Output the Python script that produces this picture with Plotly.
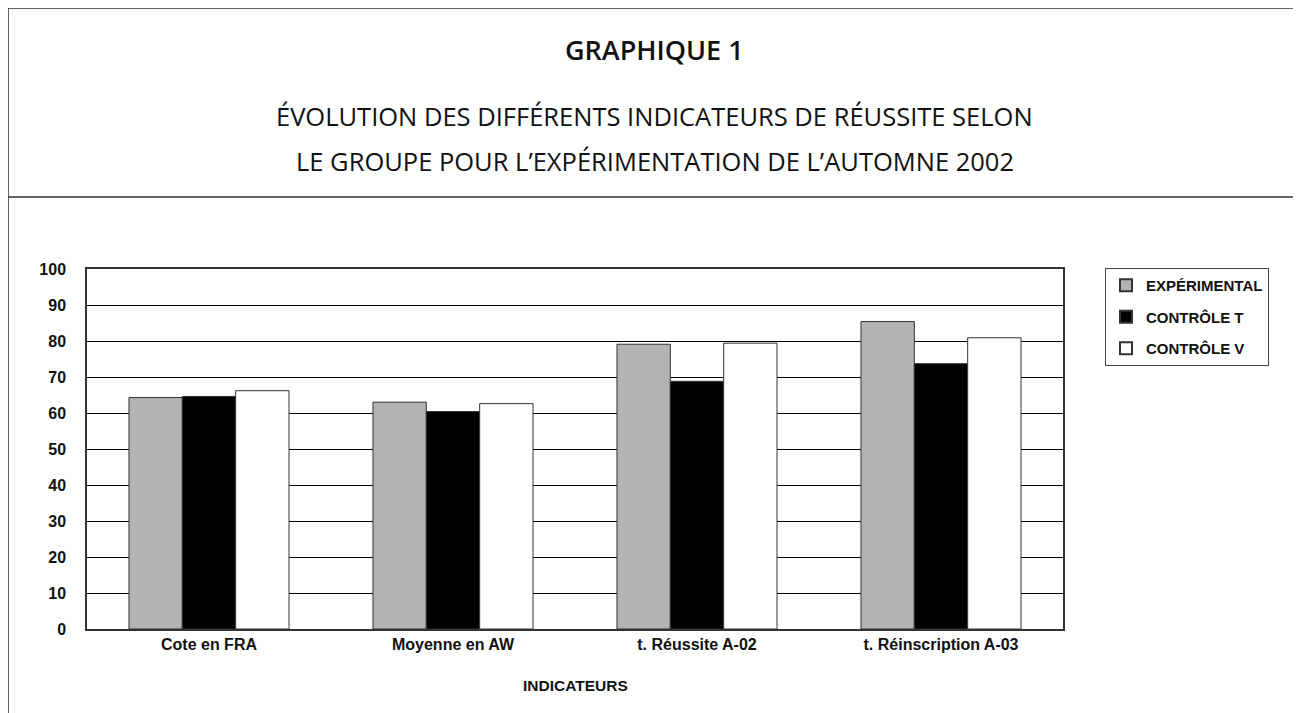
import plotly.graph_objects as go

categories = ["Cote en FRA", "Moyenne en AW", "t. Réussite A-02", "t. Réinscription A-03"]
series_names = ["EXPÉRIMENTAL", "CONTRÔLE T", "CONTRÔLE V"]
experimental = [64.3, 63.0, 79.1, 85.4]
controle_t = [64.6, 60.4, 68.8, 73.7]
controle_v = [66.2, 62.6, 79.4, 80.9]
y_ticks = [0, 10, 20, 30, 40, 50, 60, 70, 80, 90, 100]

colors = ["#b3b3b3", "#000000", "#ffffff"]
title_font = "Open Sans, Noto Sans, sans-serif"
label_font = "Liberation Sans, Arial, Helvetica, sans-serif"

fig = go.Figure()
for i, (name, vals, col) in enumerate(zip(series_names, [experimental, controle_t, controle_v], colors)):
    fig.add_trace(go.Bar(
        x=categories, y=vals, name=name, legendgroup=f"g{i}",
        marker=dict(color=col, line=dict(color="#333333", width=1)),
    ))

# figure is placed at (8,8) in the page; coordinates below are in page pixels
OFF = 8
L, R, T, B = 87 - OFF, 1063 - OFF, 269 - OFF, 629 - OFF
W, H = 1301, 713

def px(x):
    return (x - OFF - L) / (R - L)

def py(y):
    return (B - (y - OFF)) / (B - T)

xc = 0.5 * (px(8) + px(1301))
shapes = [
    dict(type="rect", xref="paper", yref="paper", x0=px(8), x1=px(1330), y0=py(8), y1=py(760),
         line=dict(color="#333333", width=1.5), layer="below"),
    dict(type="line", xref="paper", yref="paper", x0=px(8), x1=px(1330), y0=py(197), y1=py(197),
         line=dict(color="#333333", width=1.5)),
]

annotations = [
    dict(text="GRAPHIQUE 1", x=xc, y=py(50), xref="paper", yref="paper",
         showarrow=False, font=dict(family=title_font, size=27, color="#111111", weight=600),
         xanchor="center", yanchor="middle"),
    dict(text="ÉVOLUTION DES DIFFÉRENTS INDICATEURS DE RÉUSSITE SELON", x=xc, y=py(116),
         xref="paper", yref="paper", showarrow=False, font=dict(family=title_font, size=25.5, color="#111111"),
         xanchor="center", yanchor="middle"),
    dict(text="LE GROUPE POUR L’EXPÉRIMENTATION DE L’AUTOMNE 2002", x=xc, y=py(161),
         xref="paper", yref="paper", showarrow=False, font=dict(family=title_font, size=25.5, color="#111111"),
         xanchor="center", yanchor="middle"),
    dict(text="<b>INDICATEURS</b>", x=0.5, y=py(685), xref="paper", yref="paper", showarrow=False,
         font=dict(family=label_font, size=15.5, color="#111111"), xanchor="center", yanchor="middle"),
]

fig.update_layout(
    width=W, height=H,
    margin=dict(l=L, r=W - R, t=T, b=H - B, autoexpand=False),
    paper_bgcolor="white", plot_bgcolor="white",
    barmode="group", bargap=0.344, bargroupgap=0,
    shapes=shapes, annotations=annotations,
    showlegend=True,
    legend=dict(x=px(1105), y=py(268), xanchor="left", yanchor="top",
                bordercolor="#444444", borderwidth=1, bgcolor="white",
                font=dict(family=label_font, size=15, color="#111111", weight="bold"),
                tracegroupgap=9, itemsizing="constant", traceorder="grouped"),
)
fig.update_xaxes(
    showline=True, linecolor="#333333", linewidth=1.5, mirror=True,
    ticks="", tickfont=dict(family=label_font, size=16, color="#111111", weight="bold"),
    showgrid=False,
)
fig.update_yaxes(
    range=[0, 100], tickvals=y_ticks, ticktext=[str(v) for v in y_ticks],
    showline=True, linecolor="#333333", linewidth=1.5, mirror=True,
    showgrid=True, gridcolor="#000000", gridwidth=1,
    ticks="", ticklabelstandoff=16,
    tickfont=dict(family=label_font, size=16, color="#111111", weight="bold"),
    zeroline=False,
)

fig.write_html("out.html")
